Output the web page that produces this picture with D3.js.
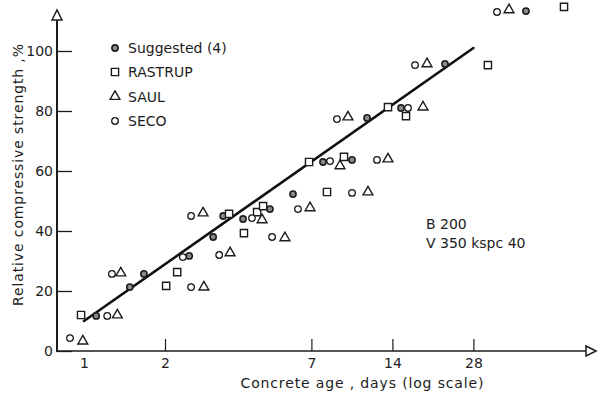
<!DOCTYPE html>
<html>
<head>
<meta charset="utf-8">
<script src="https://cdn.jsdelivr.net/npm/d3@7"></script>
<style>
  body { margin: 0; background: #fff; }
  svg text { font-family: "DejaVu Sans", sans-serif; fill: #1c1c1c; }
</style>
</head>
<body>
<svg id="chart" width="598" height="400"></svg>
<script>
// Relative compressive strength (%) against concrete age (days), per source
const suggested = [
  [1.11, 11.7], [1.48, 21.3], [1.67, 25.7], [2.46, 31.7], [3.02, 38.0],
  [3.29, 45.0], [3.90, 44.0], [4.91, 47.3], [5.98, 52.3], [7.73, 63.0],
  [9.91, 63.7], [11.27, 77.7], [15.07, 81.0], [21.96, 95.7], [43.9, 113.3]
];
const rastrup = [
  [0.975, 12.0], [2.02, 21.7], [2.22, 26.3], [3.46, 45.7], [3.93, 39.3],
  [4.40, 46.3], [4.63, 48.3], [6.86, 63.0], [8.0, 53.0], [9.25, 64.7],
  [13.48, 81.3], [15.73, 78.3], [31.7, 95.3], [60.8, 114.7]
];
const saul = [
  [0.99, 3.3], [1.33, 12.0], [1.37, 26.0], [2.77, 46.0], [2.79, 21.3],
  [3.49, 32.7], [4.59, 43.7], [5.58, 37.7], [6.92, 47.7], [8.94, 61.7],
  [9.57, 78.0], [11.36, 53.0], [13.48, 64.0], [18.19, 81.3], [18.83, 95.7],
  [37.97, 113.7]
];
const seco = [
  [0.887, 4.3], [1.22, 11.7], [1.27, 25.7], [2.33, 31.3], [2.50, 45.0],
  [2.50, 21.3], [3.18, 32.0], [4.21, 44.3], [5.0, 38.0], [6.24, 47.3],
  [8.21, 63.3], [8.71, 77.3], [9.91, 52.7], [12.27, 63.7], [16.0, 81.0],
  [16.99, 95.3], [34.27, 113.0]
];

// Fitted strength line (straight on the log-age axis)
const trendAges = [1, 28];
const trendValues = [10, 101];

const xTicks = [1, 2, 7, 14, 28];
const yTicks = [0, 20, 40, 60, 80, 100];

const legendLabels = ["Suggested (4)", "RASTRUP", "SAUL", "SECO"];
const noteLines = ["B 200", "V 350 kspc 40"];

const svg = d3.select("#chart");
const ink = "#1c1c1c";

const x = d3.scaleLog().domain([1, 28]).range([84, 473.4]);
const y = d3.scaleLinear().domain([0, 100]).range([351, 51]);

// marker styles per series
const markers = [
  { type: d3.symbolCircle, size: 30, fill: "#8a8a8a", width: 1.6 },
  { type: d3.symbolSquare, size: 52, fill: "#fff", width: 1.4 },
  { type: d3.symbolTriangle, size: 42, fill: "#fff", width: 1.4 },
  { type: d3.symbolCircle, size: 34, fill: "#fff", width: 1.3 }
];
const series = [suggested, rastrup, saul, seco];

// Y axis: ticks pointing into the plot, labels on the left
const yAxis = d3.axisLeft(y).tickValues(yTicks).tickSize(-15).tickPadding(4);
const gy = svg.append("g").attr("transform", "translate(57,0)").call(yAxis);
gy.select(".domain").remove();
gy.selectAll(".tick line").attr("stroke", ink).attr("stroke-width", 1.3);
gy.selectAll(".tick text").attr("font-size", 14).attr("fill", ink);

// X axis: inward ticks (none at 1), day labels below
const xAxis = d3.axisBottom(x).tickValues(xTicks).tickFormat(d3.format("d")).tickSize(-12).tickPadding(7);
const gx = svg.append("g").attr("transform", "translate(0,351)").call(xAxis);
gx.select(".domain").remove();
gx.selectAll(".tick line").attr("stroke", ink).attr("stroke-width", 1.2)
  .filter(d => d === 1).remove();
gx.selectAll(".tick text").attr("font-size", 14).attr("fill", ink);

// axis lines with open arrow heads
svg.append("line").attr("x1", 57).attr("x2", 586).attr("y1", 351).attr("y2", 351)
  .attr("stroke", ink).attr("stroke-width", 1.6);
svg.append("line").attr("x1", 57).attr("x2", 57).attr("y1", 352).attr("y2", 12)
  .attr("stroke", ink).attr("stroke-width", 2);
svg.append("path").attr("d", "M586,346 L596,351 L586,356 Z")
  .attr("fill", "#fff").attr("stroke", ink).attr("stroke-width", 1.5);
svg.append("path").attr("d", "M52,20 L57,10 L62,20 Z")
  .attr("fill", "#fff").attr("stroke", ink).attr("stroke-width", 1.5);

// axis titles
svg.append("text").attr("x", 362).attr("y", 388).attr("text-anchor", "middle")
  .attr("font-size", 14).attr("textLength", 243).text("Concrete age , days (log scale)");
svg.append("text").attr("transform", "translate(23,175) rotate(-90)").attr("text-anchor", "middle")
  .attr("font-size", 14).attr("textLength", 262).text("Relative compressive strength ,%");

// trend line
svg.append("line")
  .attr("x1", x(trendAges[0])).attr("y1", y(trendValues[0]))
  .attr("x2", x(trendAges[1])).attr("y2", y(trendValues[1]))
  .attr("stroke", "#111").attr("stroke-width", 2.6).attr("stroke-linecap", "round");

// data markers
series.forEach((pts, i) => {
  const m = markers[i];
  svg.append("g").selectAll("path").data(pts).join("path")
    .attr("transform", d => `translate(${x(d[0])},${y(d[1])})`)
    .attr("d", d3.symbol().type(m.type).size(m.size))
    .attr("fill", m.fill).attr("stroke", ink).attr("stroke-width", m.width);
});

// legend
const legendY = [48, 72, 96.5, 121];
legendLabels.forEach((label, i) => {
  const m = markers[i];
  svg.append("path").attr("transform", `translate(115,${legendY[i]})`)
    .attr("d", d3.symbol().type(m.type).size(m.size))
    .attr("fill", m.fill).attr("stroke", ink).attr("stroke-width", m.width);
  svg.append("text").attr("x", 128).attr("y", legendY[i]).attr("dy", "0.36em")
    .attr("font-size", 14).text(label);
});

// mix notes
noteLines.forEach((t, i) => {
  svg.append("text").attr("x", 426).attr("y", 224 + i * 18.5).attr("dy", "0.36em")
    .attr("font-size", 14).text(t);
});
</script>
</body>
</html>
